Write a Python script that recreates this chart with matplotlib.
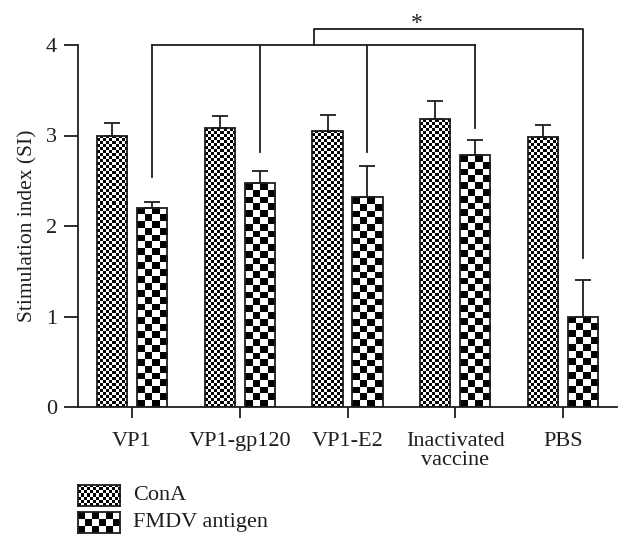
import numpy as np
import matplotlib
matplotlib.use("Agg")
import matplotlib.pyplot as plt

plt.rcParams['font.family'] = ['Liberation Serif', 'DejaVu Serif']

# data
groups = ["VP1", "VP1-gp120", "VP1-E2", "Inactivated\nvaccine", "PBS"]
cona_mean = [3.00, 3.08, 3.05, 3.18, 2.98]
cona_err = [0.14, 0.13, 0.18, 0.20, 0.14]
fmdv_mean = [2.20, 2.47, 2.32, 2.78, 1.00]
fmdv_err = [0.07, 0.14, 0.34, 0.17, 0.40]
series_names = ["ConA", "FMDV antigen"]

# significance bracket: leg bottoms above the FMDV bars
left_legs = [2.54, 2.82, 2.82, 3.08]   # VP1 .. Inactivated
pbs_leg = 1.65
bracket_low, bracket_high = 4.0, 4.18

W, H = 632, 549
fig = plt.figure(figsize=(W / 100, H / 100), dpi=100)
ax = fig.add_axes([78 / W, 1 - 407 / H, 539 / W, 362 / H])

x = np.arange(len(groups))
bw = 0.28
off = 0.185
ink = '#1e1e1e'


def checker(nx, ny):
    return (np.add.outer(np.arange(ny), np.arange(nx)) % 2).astype(float)


def fill_checks(axis, patch, cell_px):
    # paint a checkerboard inside a bar, clipped to its outline
    x0, y0 = patch.get_x(), patch.get_y()
    w, h = patch.get_width(), patch.get_height()
    p0 = axis.transData.transform((x0, y0))
    p1 = axis.transData.transform((x0 + w, y0 + h))
    nx = max(1, int(round(abs(p1[0] - p0[0]) / cell_px)))
    ny = max(1, int(round(abs(p1[1] - p0[1]) / cell_px)))
    im = axis.imshow(checker(nx, ny), cmap='gray', vmin=0, vmax=1,
                     extent=(x0, x0 + w, y0, y0 + h), origin='lower',
                     aspect='auto', interpolation='nearest', zorder=2)
    im.set_clip_path(patch)


bars_a = ax.bar(x - off, cona_mean, bw, facecolor='none', edgecolor=ink,
                linewidth=1.3, zorder=3)
bars_b = ax.bar(x + off, fmdv_mean, bw, facecolor='none', edgecolor=ink,
                linewidth=1.3, zorder=3)
ax.errorbar(x - off, cona_mean, yerr=[np.zeros(5), cona_err], fmt='none',
            ecolor=ink, elinewidth=1.3, capsize=6, capthick=1.3, zorder=4)
ax.errorbar(x + off, fmdv_mean, yerr=[np.zeros(5), fmdv_err], fmt='none',
            ecolor=ink, elinewidth=1.3, capsize=6, capthick=1.3, zorder=4)

ax.set_xlim(-0.5, 4.5)
ax.set_ylim(0, 4)

for p in bars_a:
    fill_checks(ax, p, 3.0)
for p in bars_b:
    fill_checks(ax, p, 6.8)

# brackets
lw = 1.3
xb = x + off
ax.plot([xb[0], xb[3]], [bracket_low, bracket_low], color=ink, lw=lw, clip_on=False)
for xi, yb in zip(xb[:4], left_legs):
    ax.plot([xi, xi], [yb, bracket_low], color=ink, lw=lw, clip_on=False)
mid = (xb[0] + xb[3]) / 2
ax.plot([mid, mid, xb[4], xb[4]], [bracket_low, bracket_high, bracket_high, pbs_leg],
        color=ink, lw=lw, clip_on=False)
ax.text(2.64, 4.24, "*", ha='center', va='center', fontsize=17, color=ink)

# axes styling
for s in ['top', 'right']:
    ax.spines[s].set_visible(False)
for s in ['left', 'bottom']:
    ax.spines[s].set_linewidth(1.3)
    ax.spines[s].set_color(ink)
ax.set_yticks([0, 1, 2, 3, 4])
ax.set_xticks(x)
ax.set_xticklabels(groups, fontsize=16, linespacing=1.0)
ax.tick_params(axis='y', direction='out', length=10, width=1.3, labelsize=16,
               pad=5, colors=ink)
ax.tick_params(axis='x', direction='out', length=8, width=1.3, pad=10, colors=ink)
ax.set_ylabel("Stimulation index (SI)", fontsize=15.5, labelpad=6, color=ink)

# legend drawn as swatches below the plot
legend_rows = [(485, 3.0, series_names[0]), (512, 7.0, series_names[1])]
for top, cell, name in legend_rows:
    sw = fig.add_axes([78 / W, 1 - (top + 21) / H, 42 / W, 21 / H])
    nx = int(round(42 / cell))
    ny = int(round(21 / cell))
    sw.imshow(checker(nx, ny), cmap='gray', vmin=0, vmax=1, aspect='auto',
              interpolation='nearest')
    sw.set_xticks([])
    sw.set_yticks([])
    for s in sw.spines.values():
        s.set_linewidth(1.3)
        s.set_color(ink)
    fig.text(133 / W, 1 - (top + 11) / H, name, ha='left', va='center',
             fontsize=16, color=ink)

fig.savefig("out.png", dpi=100)
